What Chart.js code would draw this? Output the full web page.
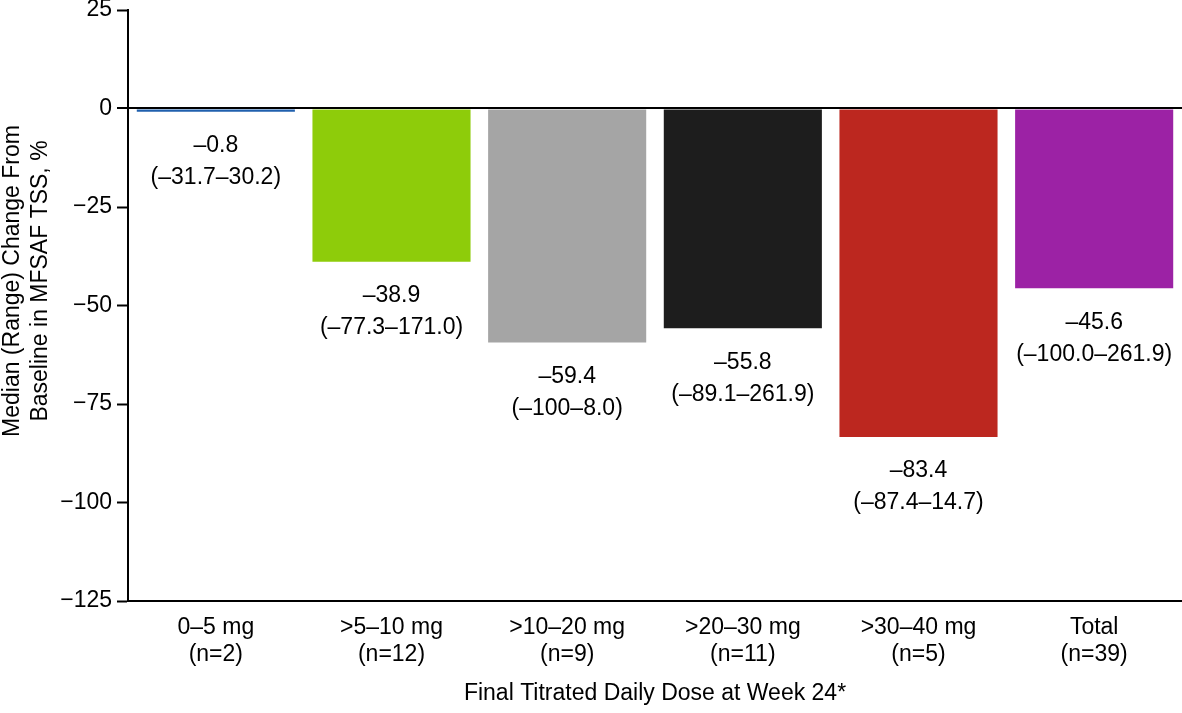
<!DOCTYPE html>
<html>
<head>
<meta charset="utf-8">
<script src="https://cdn.jsdelivr.net/npm/chart.js@4/dist/chart.umd.min.js"></script>
<style>
  html, body { margin: 0; padding: 0; background: #fff; overflow: hidden; }
  #wrap { width: 1182px; height: 713px; }
</style>
</head>
<body>
<div id="wrap"><canvas id="chart" width="1182" height="713"></canvas></div>
<script>
// data
const doseGroups = [['0–5 mg', '(n=2)'], ['>5–10 mg', '(n=12)'], ['>10–20 mg', '(n=9)'],
                    ['>20–30 mg', '(n=11)'], ['>30–40 mg', '(n=5)'], ['Total', '(n=39)']]
const medianChange = [-0.8, -38.9, -59.4, -55.8, -83.4, -45.6]
const medianText = ['–0.8', '–38.9', '–59.4', '–55.8', '–83.4', '–45.6']
const rangeText = ['(–31.7–30.2)', '(–77.3–171.0)', '(–100–8.0)', '(–89.1–261.9)', '(–87.4–14.7)', '(–100.0–261.9)']
const barColors = ['#2060ae', '#8ecc0a', '#a5a5a5', '#1d1d1d', '#bc271f', '#9c22a5']
const yTicks = [25, 0, -25, -50, -75, -100, -125]
const yTitle = ['Median (Range) Change From', 'Baseline in MFSAF TSS, %']

const fontFamily = '"Liberation Sans", Arial, sans-serif'
const fontSize = 23

// writes median + range under each bar, and the y title (sits a bit above centre in the original)
const extraText = {
    id: 'extraText',
    afterDatasetsDraw(chart) {
        const ctx = chart.ctx
        const meta = chart.getDatasetMeta(0)
        ctx.save()
        ctx.fillStyle = '#000'
        ctx.font = fontSize + 'px ' + fontFamily
        ctx.textAlign = 'center'
        ctx.textBaseline = 'middle'
        meta.data.forEach((bar, i) => {
            const bottom = Math.max(bar.y, bar.base)
            ctx.fillText(medianText[i], bar.x, bottom + 34)
            ctx.fillText(rangeText[i], bar.x, bottom + 66)
        })
        ctx.translate(0, 281)
        ctx.rotate(-Math.PI / 2)
        ctx.fillText(yTitle[0], 0, 13)
        ctx.fillText(yTitle[1], 0, 41)
        ctx.restore()
    }
}

new Chart(document.getElementById('chart'), {
    type: 'bar',
    data: {
        labels: doseGroups,
        datasets: [{
            data: medianChange,
            backgroundColor: barColors,
            borderWidth: 0,
            categoryPercentage: 1,
            barPercentage: 0.9
        }]
    },
    options: {
        responsive: false,
        animation: false,
        layout: { padding: 0 },
        plugins: { legend: { display: false }, tooltip: { enabled: false } },
        scales: {
            x: {
                afterFit: s => { s.height = 112 },
                grid: { display: false, drawTicks: false },
                border: { color: '#000', width: 2 },
                ticks: { color: '#000', font: { size: fontSize, family: fontFamily, lineHeight: 1.17 }, padding: 13, maxRotation: 0 },
                title: {
                    display: true,
                    text: 'Final Titrated Daily Dose at Week 24*',
                    color: '#000',
                    font: { size: fontSize, family: fontFamily },
                    padding: { top: 4, bottom: 6 }
                }
            },
            y: {
                min: -125,
                max: 25,
                afterFit: s => { s.width = 128; s.paddingTop = 10 },
                afterBuildTicks: s => { s.ticks = yTicks.map(v => ({ value: v })) },
                grid: {
                    drawOnChartArea: true,
                    color: c => (c.tick && c.tick.value === 0) ? '#000' : 'rgba(0,0,0,0)',
                    lineWidth: c => (c.tick && c.tick.value === 0) ? 2 : 1,
                    tickColor: '#000',
                    tickLength: 11,
                    tickWidth: 2
                },
                border: { color: '#000', width: 2 },
                ticks: {
                    color: '#000',
                    font: { size: fontSize, family: fontFamily },
                    padding: 5,
                    callback: v => v < 0 ? '−' + Math.abs(v) : String(v)
                },
                title: { display: false }
            }
        }
    },
    plugins: [extraText]
})
</script>
</body>
</html>
